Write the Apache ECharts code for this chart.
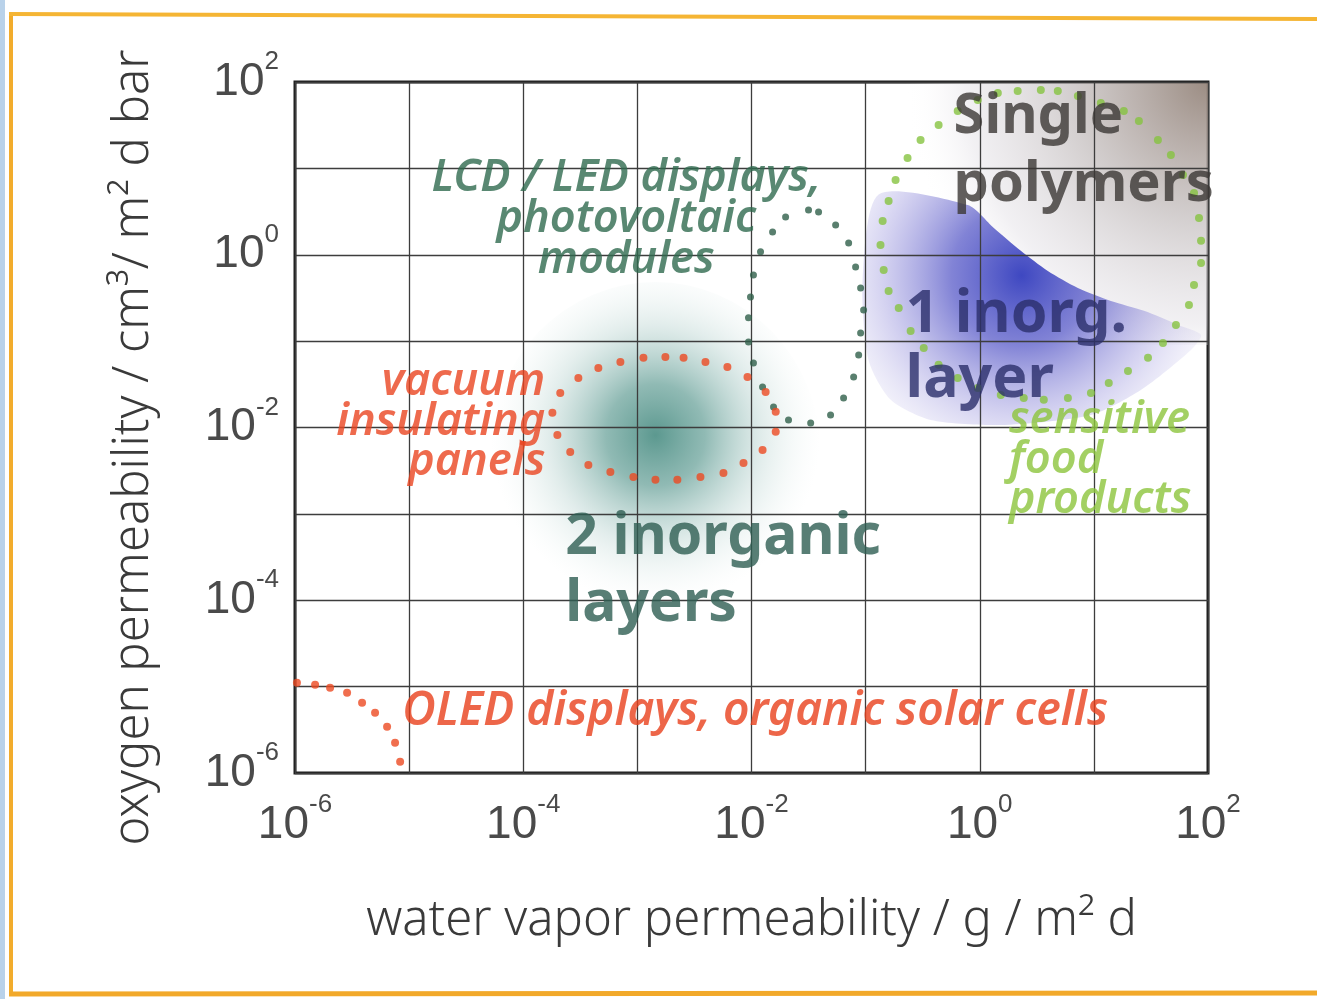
<!DOCTYPE html>
<html>
<head>
<meta charset="utf-8">
<script src="https://cdn.jsdelivr.net/npm/echarts@6/dist/echarts.min.js"></script>
<style>
  html, body { margin: 0; padding: 0; background: #fff; }
  #chart { width: 1317px; height: 999px; }
</style>
</head>
<body>
<div id="chart"></div>
<script>
// tick labels are shown every second decade
const tickExponents = [-6, -4, -2, 0, 2];

// dotted outlines, one point per dot
const oledX = [1.04e-6, 1.50e-6, 2.03e-6, 2.86e-6, 3.87e-6, 5.03e-6, 6.41e-6, 7.53e-6, 8.34e-6];
const oledY = [1.11e-5, 1.05e-5, 9.7e-6, 8.5e-6, 6.5e-6, 4.97e-6, 3.43e-6, 2.24e-6, 1.35e-6];

const vacuumX = [1.80e-4, 2.11e-4, 3.04e-4, 4.55e-4, 7.10e-4, 1.13e-3, 1.76e-3, 2.54e-3, 3.95e-3, 6.15e-3, 9.22e-3, 1.33e-2, 1.63e-2,
  1.63e-2, 1.25e-2, 8.51e-3, 5.68e-3, 3.57e-3, 2.24e-3, 1.44e-3, 9.23e-4, 5.80e-4, 3.72e-4, 2.58e-4, 1.99e-4];
const vacuumY = [1.48e-2, 2.51e-2, 3.75e-2, 4.90e-2, 5.74e-2, 6.40e-2, 6.57e-2, 6.40e-2, 5.74e-2, 5.03e-2, 3.85e-2, 2.58e-2, 1.52e-2,
  8.9e-3, 5.5e-3, 3.89e-3, 2.98e-3, 2.68e-3, 2.48e-3, 2.48e-3, 2.68e-3, 3.06e-3, 3.69e-3, 5.22e-3, 8.2e-3];

const lcdX = [0.0120, 0.0153, 0.0199, 0.0316, 0.0387, 0.0546, 0.0710, 0.0817, 0.0904, 0.0960, 0.0904, 0.0869,
  0.0785, 0.0641, 0.0493, 0.0330, 0.0211, 0.0156, 0.0125, 0.0104, 0.00941, 0.00941, 0.00980, 0.0104];
const lcdY = [1.08, 1.84, 2.74, 3.30, 3.13, 2.21, 1.37, 0.723, 0.413, 0.230, 0.124, 0.0692,
  0.0385, 0.0220, 0.0140, 0.0113, 0.0122, 0.0173, 0.0295, 0.0560, 0.0980, 0.186, 0.325, 0.583];

const foodX = [1.44, 2.15, 3.43, 4.83, 7.24, 11.5, 18.3, 24.8, 36.4, 47.3, 60.4, 75.4, 83.4, 86.9, 86.9,
  75.4, 68.1, 52.4, 40.3, 29.8, 19.9, 13.5, 9.42, 5.92, 3.64, 2.43, 1.53, 0.96, 0.641, 0.436,
  0.323, 0.248, 0.195, 0.159, 0.144, 0.135, 0.141, 0.159, 0.183, 0.233, 0.303, 0.436, 0.641, 0.96];
const foodY = [74.6, 78.7, 80.7, 78.7, 68.9, 57.2, 46.1, 35.4, 21.3, 14.3, 8.4, 5.19, 2.67, 1.45, 0.80,
  0.447, 0.262, 0.154, 0.0953, 0.064, 0.0452, 0.0328, 0.0251, 0.0220, 0.0209, 0.0220, 0.0238, 0.0287, 0.0375, 0.0531,
  0.0834, 0.131, 0.242, 0.381, 0.667, 1.30, 2.46, 4.20, 7.35, 13.2, 21.3, 31.8, 46.1, 61.9];

// shaded regions
const polymerX = [0.2, 100, 100, 0.2];
const polymerY = [100, 100, 0.09, 0.09];
const inorg1X = [0.13, 0.785, 1.33, 2.29, 3.95, 7.24, 14.1, 27.5, 54.6, 86.9, 71.0, 25.8, 9.42, 1.53, 0.372, 0.166, 0.106, 0.0941];
const inorg1Y = [5.0, 3.77, 2.04, 1.11, 0.649, 0.413, 0.292, 0.224, 0.154, 0.118, 0.0791, 0.0272, 0.0140, 0.0107, 0.0122, 0.0209, 0.0605, 0.510];
const inorg2Center = [1.44e-3, 5.2e-3];

// region captions
const noteText = ['Single\npolymers', '1 inorg.\nlayer', '2 inorganic\nlayers', 'LCD / LED displays,\nphotovoltaic\nmodules',
  'vacuum\ninsulating\npanels', 'OLED displays, organic solar cells', 'sensitive\nfood\nproducts'];
const noteX = [0.59, 0.224, 2.33e-4, 8.0e-4, 1.56e-4, 8.7e-6, 1.80];
const noteY = [15.9, 0.0834, 2.19e-4, 2.6, 0.0116, 5.1e-6, 4.2e-3];

const pairs = (xs, ys) => xs.map((x, i) => [x, ys[i]]);

const noteStyles = [
  { align: 'left', fontSize: 56, fontWeight: 'bold', lineHeight: 68, color: '#3b3735' },
  { align: 'left', fontSize: 59, fontWeight: 'bold', lineHeight: 65, color: '#2a2e6a' },
  { align: 'left', fontSize: 57, fontWeight: 'bold', lineHeight: 67, color: '#2e5e52' },
  { align: 'center', fontSize: 45, fontStyle: 'italic', fontWeight: 600, lineHeight: 41, color: '#2f6a4f' },
  { align: 'right', fontSize: 45, fontStyle: 'italic', fontWeight: 600, lineHeight: 40, color: '#ea4520' },
  { align: 'left', fontSize: 46, fontStyle: 'italic', fontWeight: 600, lineHeight: 46, color: '#e8401c' },
  { align: 'left', fontSize: 45, fontStyle: 'italic', fontWeight: 600, lineHeight: 40, color: '#8cc43c' },
];

function powLabel(v) {
  const e = Math.round(Math.log10(v));
  return tickExponents.includes(e) ? '{b|10}{s|' + e + '}' : '';
}

// a tall base line lets the exponent sit well above the "10"
const tickRich = {
  b: { fontSize: 46, fontFamily: 'Liberation Sans', color: '#4a4a4a', lineHeight: 66, verticalAlign: 'middle' },
  s: { fontSize: 26, fontFamily: 'Liberation Sans', color: '#4a4a4a', lineHeight: 26, verticalAlign: 'top' },
};

const nameStyle = { fontFamily: 'Noto Sans', fontWeight: 300, fontSize: 49, color: '#3a3a3a' };

function regionSeries(xs, ys, fill, smooth) {
  return {
    type: 'custom',
    silent: true,
    z: 1,
    data: [[xs[0], ys[0]]],
    renderItem: (params, api) => ({
      type: 'polygon',
      shape: { points: xs.map((x, i) => api.coord([x, ys[i]])), smooth: smooth },
      style: { fill: fill },
    }),
  };
}

function dotSeries(xs, ys, color, size) {
  return {
    type: 'scatter',
    silent: true,
    z: 4,
    symbol: 'circle',
    symbolSize: size,
    itemStyle: { color: color },
    data: pairs(xs, ys),
  };
}

const chart = echarts.init(document.getElementById('chart'), null, { renderer: 'canvas' });

chart.setOption({
  animation: false,
  backgroundColor: '#ffffff',
  textStyle: { fontFamily: 'Noto Sans' },
  grid: {
    left: 295, right: 109, top: 82, bottom: 226,
    show: true, borderColor: '#1e1e1e', borderWidth: 3, backgroundColor: 'transparent',
    outerBoundsMode: 'none',
  },
  xAxis: {
    type: 'log', logBase: 10, min: 1e-6, max: 100, interval: 1, z: 2,
    name: 'water vapor permeability / g / m² d',
    nameLocation: 'middle', nameGap: 124, nameTextStyle: nameStyle,
    axisLine: { show: false }, axisTick: { show: false },
    splitLine: { show: true, lineStyle: { color: '#3d3d3d', width: 1.3 } },
    axisLabel: { formatter: powLabel, rich: tickRich, margin: 19 },
  },
  yAxis: {
    type: 'log', logBase: 10, min: 1e-6, max: 100, interval: 1, z: 2,
    name: 'oxygen permeability / cm³/ m² d bar',
    nameLocation: 'middle', nameGap: 136,
    nameTextStyle: Object.assign({ padding: [0, 40, 0, 0] }, nameStyle),
    axisLine: { show: false }, axisTick: { show: false },
    splitLine: { show: true, lineStyle: { color: '#3d3d3d', width: 1.3 } },
    axisLabel: { formatter: powLabel, rich: tickRich, margin: 16 },
  },
  series: [
    regionSeries(polymerX, polymerY, new echarts.graphic.RadialGradient(1, 0, 1.15, [
      { offset: 0, color: 'rgba(150,134,124,0.95)' },
      { offset: 0.45, color: 'rgba(196,190,190,0.75)' },
      { offset: 0.8, color: 'rgba(225,222,228,0.45)' },
      { offset: 1, color: 'rgba(255,255,255,0)' },
    ]), 0),
    regionSeries(inorg1X, inorg1Y, new echarts.graphic.RadialGradient(0.47, 0.36, 1.0, [
      { offset: 0, color: 'rgba(52,62,190,0.95)' },
      { offset: 0.3, color: 'rgba(88,90,200,0.75)' },
      { offset: 0.6, color: 'rgba(150,145,220,0.4)' },
      { offset: 0.85, color: 'rgba(200,195,235,0.12)' },
      { offset: 1, color: 'rgba(220,215,245,0)' },
    ]), 0.25),
    {
      type: 'scatter',
      silent: true,
      z: 1,
      symbol: 'circle',
      symbolSize: [330, 340],
      itemStyle: {
        color: new echarts.graphic.RadialGradient(0.5, 0.45, 0.5, [
          { offset: 0, color: 'rgba(40,120,108,0.95)' },
          { offset: 0.3, color: 'rgba(70,140,130,0.75)' },
          { offset: 0.65, color: 'rgba(150,190,185,0.35)' },
          { offset: 1, color: 'rgba(220,235,232,0)' },
        ]),
      },
      data: [inorg2Center],
    },
    dotSeries(foodX, foodY, '#86c340', 8),
    dotSeries(lcdX, lcdY, '#2f5f4a', 7),
    dotSeries(vacuumX, vacuumY, '#ec4a22', 8),
    dotSeries(oledX, oledY, '#ec4a22', 8),
    {
      type: 'scatter',
      silent: true,
      z: 6,
      symbolSize: 1,
      itemStyle: { color: 'rgba(0,0,0,0)' },
      data: noteText.map((t, i) => ({
        value: [noteX[i], noteY[i]],
        label: Object.assign({
          show: true, position: 'inside', verticalAlign: 'middle',
          fontFamily: 'Noto Sans', formatter: t,
        }, noteStyles[i]),
      })),
    },
  ],
  graphic: [
    { type: 'rect', left: 0, top: 0, shape: { width: 5, height: 999 }, style: { fill: '#b9d2ea' }, silent: true },
    { type: 'line', shape: { x1: 11, y1: 14, x2: 11, y2: 996 }, style: { stroke: '#f2ac2c', lineWidth: 4 }, silent: true },
    { type: 'line', shape: { x1: 9, y1: 14, x2: 1317, y2: 19 }, style: { stroke: '#f5b534', lineWidth: 4 }, silent: true },
    { type: 'line', shape: { x1: 9, y1: 994, x2: 1317, y2: 993 }, style: { stroke: '#f2a92a', lineWidth: 5 }, silent: true },
  ],
});
</script>
</body>
</html>
